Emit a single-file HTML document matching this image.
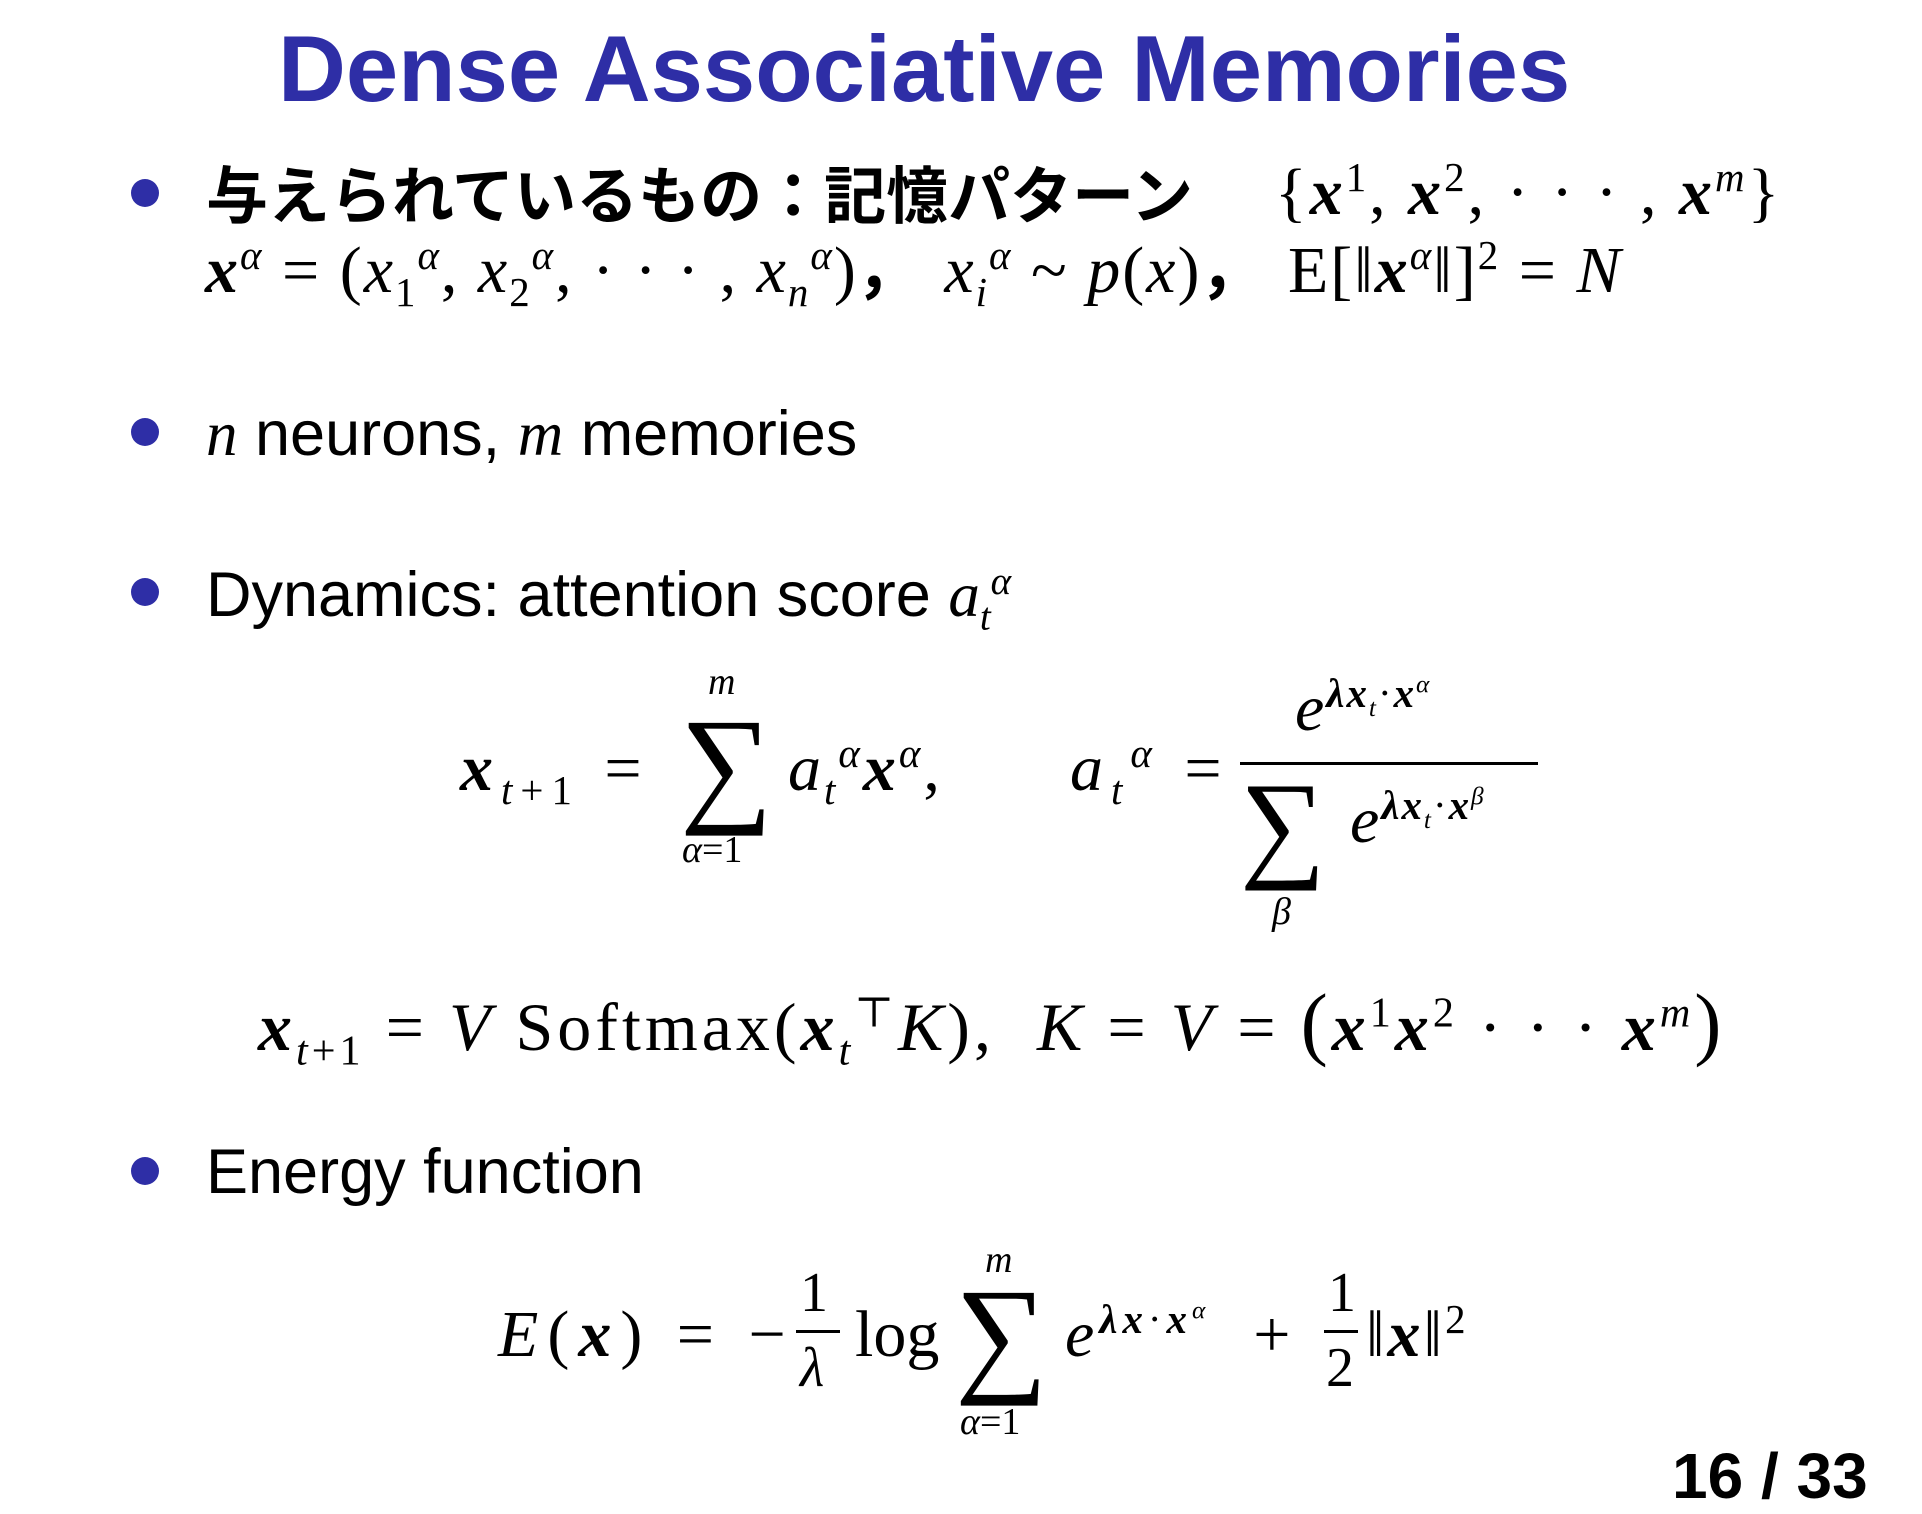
<!DOCTYPE html>
<html><head><meta charset="utf-8"><style>
body{margin:0;width:1922px;height:1514px;background:#fff;position:relative;overflow:hidden;font-family:"Liberation Sans","Noto Sans CJK JP",sans-serif;color:#000}
.a{position:absolute;white-space:nowrap;line-height:1}
.m{font-family:"Liberation Serif","DejaVu Serif",serif}
i{font-style:italic}
b.x{font-style:italic;font-weight:bold}
sup,sub{font-size:62%;line-height:0}
.dot{position:absolute;width:28px;height:28px;border-radius:50%;background:#2e2ea6}
.lim{position:absolute;font-size:38px;font-style:italic}
.bar{position:absolute;height:3px;background:#000}
</style></head><body>
<div class="a" style="left:278px;top:22px;font-size:94px;font-weight:bold;color:#2e2ea6">Dense Associative Memories</div>

<div class="dot" style="left:131px;top:179px"></div>
<div class="a" style="left:206px;top:160px;font-size:62px;font-weight:bold;font-family:'Noto Sans CJK JP',sans-serif">与えられているもの：記憶パターン</div>
<div class="a m" style="left:1275px;top:160px;font-size:66px;letter-spacing:3px">{<b class="x">x</b><sup>1</sup>, <b class="x">x</b><sup>2</sup>, · · · , <b class="x">x</b><sup><i>m</i></sup>}</div>
<div class="a m" style="left:205px;top:238px;font-size:66px;letter-spacing:2px"><b class="x">x</b><sup><i>α</i></sup> = (<i>x</i><sub>1</sub><sup><i>α</i></sup>, <i>x</i><sub>2</sub><sup><i>α</i></sup>, · · · , <i>x</i><sub><i>n</i></sub><sup><i>α</i></sup>)<b>，</b> <i>x</i><sub><i>i</i></sub><sup><i>α</i></sup> ~ <i>p</i>(<i>x</i>)<b>，</b> E[‖<b class="x">x</b><sup><i>α</i></sup>‖]<sup>2</sup> = <i>N</i></div>

<div class="dot" style="left:131px;top:418px"></div>
<div class="a" style="left:206px;top:403px;font-size:63px"><span class="m"><i>n</i></span> neurons, <span class="m"><i>m</i></span> memories</div>

<div class="dot" style="left:131px;top:578px"></div>
<div class="a" style="left:206px;top:564px;font-size:63px">Dynamics: attention score <span class="m"><i>a</i><sub><i>t</i></sub><sup><i>α</i></sup></span></div>

<!-- eq1 -->
<div class="a m" style="left:460px;top:736px;font-size:66px;letter-spacing:8px"><b class="x">x</b><sub><i>t</i>+1</sub> =</div>
<div class="a m" style="left:680px;top:700px;font-size:130px">∑</div>
<div class="lim m" style="left:708px;top:660px">m</div>
<div class="lim m" style="left:682px;top:828px;font-style:normal"><i>α</i>=1</div>
<div class="a m" style="left:788px;top:736px;font-size:66px;letter-spacing:3px"><i>a</i><sub><i>t</i></sub><sup><i>α</i></sup><b class="x">x</b><sup><i>α</i></sup>,</div>
<div class="a m" style="left:1070px;top:736px;font-size:66px;letter-spacing:8px"><i>a</i><sub><i>t</i></sub><sup><i>α</i></sup> =</div>
<div class="a m" style="left:1295px;top:676px;font-size:66px;letter-spacing:2px"><i>e</i><sup><b class="x">λx</b><sub><i>t</i></sub>·<b class="x">x</b><sup><i>α</i></sup></sup></div>
<div class="bar" style="left:1240px;top:762px;width:298px"></div>
<div class="a m" style="left:1240px;top:765px;font-size:120px">∑</div>
<div class="lim m" style="left:1272px;top:890px">β</div>
<div class="a m" style="left:1350px;top:788px;font-size:66px;letter-spacing:2px"><i>e</i><sup><b class="x">λx</b><sub><i>t</i></sub>·<b class="x">x</b><sup><i>β</i></sup></sup></div>

<!-- eq2 -->
<div class="a m" style="left:258px;top:982px;font-size:68px;letter-spacing:4px"><b class="x">x</b><sub><i>t</i>+1</sub> = <i>V</i> Softmax(<b class="x">x</b><sub><i>t</i></sub><sup>⊤</sup><i>K</i>), &nbsp;<i>K</i> = <i>V</i> = <span style="font-size:120%">(</span><b class="x">x</b><sup>1</sup><b class="x">x</b><sup>2</sup> · · · <b class="x">x</b><sup><i>m</i></sup><span style="font-size:120%">)</span></div>

<div class="dot" style="left:131px;top:1157px"></div>
<div class="a" style="left:206px;top:1141px;font-size:63px">Energy function</div>

<!-- eq3 -->
<div class="a m" style="left:498px;top:1302px;font-size:66px;letter-spacing:9px"><i>E</i>(<b class="x">x</b>) = −</div>
<div class="a m" style="left:800px;top:1265px;font-size:56px">1</div>
<div class="bar" style="left:796px;top:1330px;width:44px"></div>
<div class="a m" style="left:800px;top:1340px;font-size:56px"><i>λ</i></div>
<div class="a m" style="left:855px;top:1302px;font-size:66px">log</div>
<div class="a m" style="left:955px;top:1270px;font-size:130px">∑</div>
<div class="lim m" style="left:985px;top:1238px">m</div>
<div class="lim m" style="left:960px;top:1400px;font-style:normal"><i>α</i>=1</div>
<div class="a m" style="left:1065px;top:1302px;font-size:66px;letter-spacing:5px"><i>e</i><sup><b class="x">λx</b>·<b class="x">x</b><sup><i>α</i></sup></sup> &nbsp;+</div>
<div class="a m" style="left:1328px;top:1265px;font-size:56px">1</div>
<div class="bar" style="left:1324px;top:1330px;width:34px"></div>
<div class="a m" style="left:1326px;top:1340px;font-size:56px">2</div>
<div class="a m" style="left:1366px;top:1302px;font-size:66px;letter-spacing:3px">‖<b class="x">x</b>‖<sup>2</sup></div>

<div class="a" style="left:1672px;top:1444px;font-size:64px;font-weight:bold">16 / 33</div>
</body></html>
